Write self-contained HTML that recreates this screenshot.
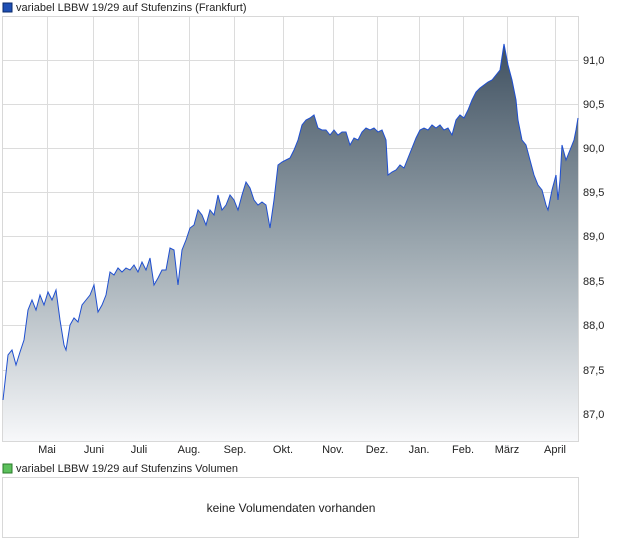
<!DOCTYPE html>
<html><head><meta charset="utf-8"><style>
body{margin:0;background:#fff;font-family:"Liberation Sans",sans-serif;}
svg text{font-family:"Liberation Sans",sans-serif;font-size:11px;fill:#222;}
</style></head><body>
<svg width="620" height="546" viewBox="0 0 620 546" xmlns="http://www.w3.org/2000/svg">
<defs><linearGradient id="g" x1="0" y1="44" x2="0" y2="441" gradientUnits="userSpaceOnUse">
<stop offset="0" stop-color="#3f5060"/><stop offset="0.5" stop-color="#9aa6ae"/><stop offset="1" stop-color="#f7f8fa"/></linearGradient></defs>
<rect x="3" y="3" width="9" height="9" fill="#1e4fb4" stroke="#0a2a6a" stroke-width="1"/>
<text x="16" y="11">variabel LBBW 19/29 auf Stufenzins (Frankfurt)</text>
<rect x="2.5" y="16.5" width="576" height="425" fill="#fff" stroke="#d8d8d8"/>
<g stroke="#dcdcdc" stroke-width="1">
<line x1="47.5" y1="17" x2="47.5" y2="441"/><line x1="93.5" y1="17" x2="93.5" y2="441"/><line x1="138.5" y1="17" x2="138.5" y2="441"/><line x1="189.5" y1="17" x2="189.5" y2="441"/><line x1="234.5" y1="17" x2="234.5" y2="441"/><line x1="283.5" y1="17" x2="283.5" y2="441"/><line x1="333.5" y1="17" x2="333.5" y2="441"/><line x1="377.5" y1="17" x2="377.5" y2="441"/><line x1="419.5" y1="17" x2="419.5" y2="441"/><line x1="463.5" y1="17" x2="463.5" y2="441"/><line x1="507.5" y1="17" x2="507.5" y2="441"/><line x1="555.5" y1="17" x2="555.5" y2="441"/>
<line x1="3" y1="60.5" x2="578" y2="60.5"/><line x1="3" y1="104.5" x2="578" y2="104.5"/><line x1="3" y1="148.5" x2="578" y2="148.5"/><line x1="3" y1="192.5" x2="578" y2="192.5"/><line x1="3" y1="236.5" x2="578" y2="236.5"/><line x1="3" y1="281.5" x2="578" y2="281.5"/><line x1="3" y1="325.5" x2="578" y2="325.5"/><line x1="3" y1="370.5" x2="578" y2="370.5"/><line x1="3" y1="414.5" x2="578" y2="414.5"/>
</g>
<polygon fill="url(#g)" points="3,441 3,400 8,355 12,350 16,365 20,352 24,340 28,310 32,300 36,310 40,295 44,305 48,292 52,300 56,290 60,320 64,345 66,350 70,325 74,318 78,322 82,305 86,300 90,295 94,285 98,312 102,305 106,295 110,272 114,275 118,268 122,272 126,268 130,270 134,265 138,272 142,262 146,270 150,258 154,285 158,278 162,270 166,270 170,248 174,250 178,285 182,250 186,240 190,228 194,225 198,210 202,215 206,225 210,210 214,215 218,195 222,210 226,205 230,195 234,200 238,210 242,195 246,182 250,188 254,200 258,205 262,202 266,205 270,228 274,200 278,165 282,162 286,160 290,158 294,150 298,140 302,125 306,120 310,118 314,115 318,128 322,130 326,130 330,135 334,130 338,135 342,132 346,132 350,145 354,138 358,140 362,132 366,128 370,130 374,128 378,132 382,130 386,140 388,175 392,172 396,170 400,165 404,168 408,158 412,148 416,138 420,130 424,128 428,130 432,125 436,128 440,125 444,130 448,128 452,135 456,120 460,115 464,118 468,110 472,100 476,92 480,88 484,85 488,82 492,80 496,75 500,70 504,44 508,65 512,80 516,100 518,120 522,140 526,145 530,160 534,175 538,185 542,190 546,205 548,210 552,190 556,175 558,200 560,180 562,145 566,160 570,150 574,140 576,130 578,118 578,441"/>
<polyline fill="none" stroke="#1f4fd0" stroke-width="1" points="3,400 8,355 12,350 16,365 20,352 24,340 28,310 32,300 36,310 40,295 44,305 48,292 52,300 56,290 60,320 64,345 66,350 70,325 74,318 78,322 82,305 86,300 90,295 94,285 98,312 102,305 106,295 110,272 114,275 118,268 122,272 126,268 130,270 134,265 138,272 142,262 146,270 150,258 154,285 158,278 162,270 166,270 170,248 174,250 178,285 182,250 186,240 190,228 194,225 198,210 202,215 206,225 210,210 214,215 218,195 222,210 226,205 230,195 234,200 238,210 242,195 246,182 250,188 254,200 258,205 262,202 266,205 270,228 274,200 278,165 282,162 286,160 290,158 294,150 298,140 302,125 306,120 310,118 314,115 318,128 322,130 326,130 330,135 334,130 338,135 342,132 346,132 350,145 354,138 358,140 362,132 366,128 370,130 374,128 378,132 382,130 386,140 388,175 392,172 396,170 400,165 404,168 408,158 412,148 416,138 420,130 424,128 428,130 432,125 436,128 440,125 444,130 448,128 452,135 456,120 460,115 464,118 468,110 472,100 476,92 480,88 484,85 488,82 492,80 496,75 500,70 504,44 508,65 512,80 516,100 518,120 522,140 526,145 530,160 534,175 538,185 542,190 546,205 548,210 552,190 556,175 558,200 560,180 562,145 566,160 570,150 574,140 576,130 578,118"/>
<g>
<text x="583" y="64">91,0</text><text x="583" y="108">90,5</text><text x="583" y="152">90,0</text><text x="583" y="196">89,5</text><text x="583" y="240">89,0</text><text x="583" y="285">88,5</text><text x="583" y="329">88,0</text><text x="583" y="374">87,5</text><text x="583" y="418">87,0</text>
</g>
<g text-anchor="middle">
<text x="47" y="453">Mai</text><text x="94" y="453">Juni</text><text x="139" y="453">Juli</text><text x="189" y="453">Aug.</text><text x="235" y="453">Sep.</text><text x="283" y="453">Okt.</text><text x="333" y="453">Nov.</text><text x="377" y="453">Dez.</text><text x="419" y="453">Jan.</text><text x="463" y="453">Feb.</text><text x="507" y="453">März</text><text x="555" y="453">April</text>
</g>
<rect x="3" y="464" width="9" height="9" fill="#5cc05c" stroke="#2a7a2a" stroke-width="1"/>
<text x="16" y="472">variabel LBBW 19/29 auf Stufenzins Volumen</text>
<rect x="2.5" y="477.5" width="576" height="60" fill="#fff" stroke="#d8d8d8"/>
<text x="291" y="512" text-anchor="middle" style="font-size:12px">keine Volumendaten vorhanden</text>
</svg>
</body></html>
